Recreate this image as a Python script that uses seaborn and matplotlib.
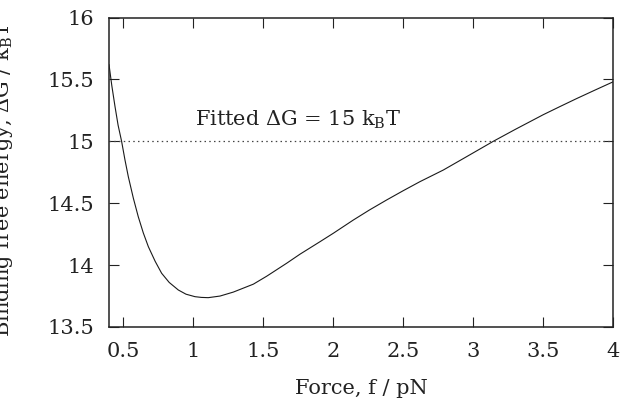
import numpy as np
import pandas as pd
import matplotlib
matplotlib.use("Agg")
import matplotlib.pyplot as plt
import seaborn as sns

# Data
force = [0.400, 0.420, 0.443, 0.465, 0.490, 0.514, 0.538, 0.574, 0.609, 0.645,
         0.681, 0.730, 0.776, 0.830, 0.895, 0.950, 1.014, 1.060, 1.109, 1.193,
         1.288, 1.431, 1.526, 1.669, 1.764, 1.907, 2.002, 2.145, 2.260, 2.383,
         2.500, 2.621, 2.717, 2.788, 2.950, 3.145, 3.300, 3.502, 3.620, 3.740,
         3.870, 4.000]
energy = [15.62, 15.45, 15.28, 15.13, 15.00, 14.85, 14.714, 14.54, 14.391, 14.26,
          14.149, 14.03, 13.934, 13.86, 13.799, 13.765, 13.745, 13.739, 13.737, 13.750,
          13.782, 13.846, 13.910, 14.015, 14.088, 14.189, 14.257, 14.364, 14.445, 14.526,
          14.600, 14.674, 14.728, 14.768, 14.873, 15.000, 15.095, 15.215, 15.280, 15.345,
          15.413, 15.480]
fitted_dG = 15.0
xticks = [0.5, 1, 1.5, 2, 2.5, 3, 3.5, 4]
xticklabels = ["0.5", "1", "1.5", "2", "2.5", "3", "3.5", "4"]
yticks = [13.5, 14, 14.5, 15, 15.5, 16]
yticklabels = ["13.5", "14", "14.5", "15", "15.5", "16"]
xlim = (0.4, 4.0)
ylim = (13.5, 16.0)

sns.set_theme(style="ticks")
plt.rcParams['font.family'] = ['DejaVu Serif']
plt.rcParams['mathtext.fontset'] = 'dejavuserif'

fig = plt.figure(figsize=(6.23, 4.04), dpi=100)
ax = fig.add_axes([109/623, 1-327/404, (613-109)/623, (327-17.5)/404])

df = pd.DataFrame({"force": force, "energy": energy})
sns.lineplot(data=df, x="force", y="energy", ax=ax, color="#1a1a1a", linewidth=0.8,
             sort=False, estimator=None)
ax.axhline(fitted_dG, color="#444444", linewidth=0.9, linestyle=(0, (1.2, 2.6)))

ax.set_xlim(*xlim)
ax.set_ylim(*ylim)
ax.set_xticks(xticks)
ax.set_xticklabels(xticklabels)
ax.set_yticks(yticks)
ax.set_yticklabels(yticklabels)
ax.tick_params(direction="in", length=7.5, width=0.8, top=True, right=True,
               labelsize=15, colors="#222222")
ax.tick_params(axis="x", pad=11)
ax.tick_params(axis="y", pad=10.5)
for s in ax.spines.values():
    s.set_linewidth(1.1)
    s.set_color("#222222")
    s.set_visible(True)

ax.set_xlabel("Force, f / pN", fontsize=15, color="#222222", labelpad=13)
ax.set_ylabel("")
fig.text(15/623, 1-337/404, r"Binding free energy, ΔG / k$_\mathrm{B}$T", rotation=90,
         ha="right", va="bottom", fontsize=15, color="#222222")

ax.text(1.014, 15.13, r"Fitted ΔG = 15 k$_\mathrm{B}$T", fontsize=15, color="#222222",
        ha="left", va="baseline")

fig.savefig("out.png", dpi=100)
